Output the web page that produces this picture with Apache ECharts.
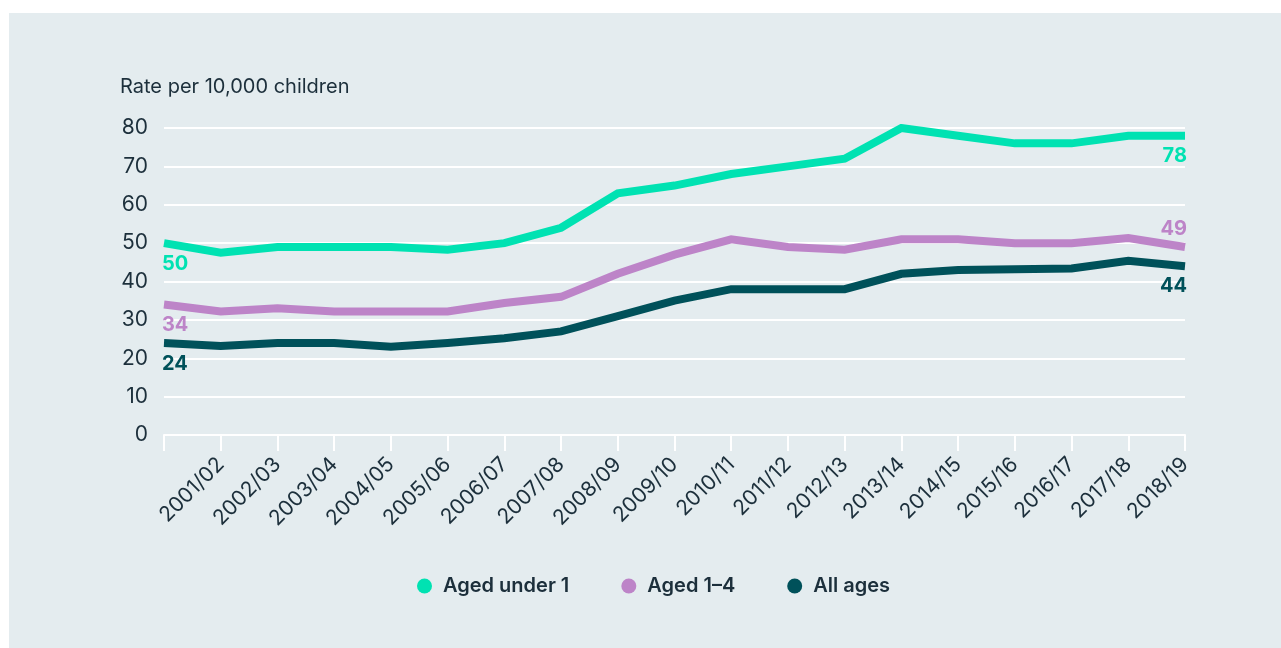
<!DOCTYPE html>
<html>
<head>
<meta charset="utf-8">
<script src="https://cdn.jsdelivr.net/npm/echarts@6/dist/echarts.min.js"></script>
<style>
  html, body { margin: 0; padding: 0; background: #ffffff; }
  #panel { position: absolute; left: 9px; top: 13px; width: 1272px; height: 635px; background: #e4ecef; }
  #chart { position: absolute; left: 0; top: 0; width: 1281px; height: 648px; }
</style>
</head>
<body>
<div id="panel"></div>
<div id="chart"></div>
<script>
// Financial years; the first year sits on the axis without a label
const years = ['2000/01', '2001/02', '2002/03', '2003/04', '2004/05', '2005/06', '2006/07',
  '2007/08', '2008/09', '2009/10', '2010/11', '2011/12', '2012/13', '2013/14',
  '2014/15', '2015/16', '2016/17', '2017/18', '2018/19'];

// Rate per 10,000 children
const agedUnder1 = [50, 47.5, 49, 49, 49, 48.3, 50, 54, 63, 65, 68, 70, 72, 80, 78, 76, 76, 78, 78];
const aged1to4   = [34, 32.2, 33, 32.2, 32.2, 32.2, 34.4, 36, 42, 47, 51, 49, 48.3, 51, 51, 50, 50, 51.3, 49];
const allAges    = [24, 23.2, 24, 24, 23, 24, 25.2, 27, 31, 35, 38, 38, 38, 42, 43, 43.2, 43.4, 45.4, 44];

const yTicks = [0, 10, 20, 30, 40, 50, 60, 70, 80];

const TEXT = '#1c2f3b';
const FONT = 'Inter, "Noto Sans", sans-serif';

// end-point value labels: [dx, dy] relative to the point, plus alignment
function labelled(values, color, startOff, endOff, endVAlign) {
  const last = values.length - 1;
  return values.map((v, i) => {
    if (i !== 0 && i !== last) return v;
    const first = i === 0;
    return {
      value: v,
      label: {
        show: true,
        position: first ? startOff : endOff,
        align: first ? 'left' : 'right',
        verticalAlign: first ? 'top' : endVAlign,
        color: color,
        fontFamily: FONT,
        fontWeight: 700,
        fontSize: 20,
        formatter: () => String(Math.round(v))
      }
    };
  });
}

function lineSeries(name, values, color, startOff, endOff, endVAlign) {
  return {
    name: name,
    type: 'line',
    data: labelled(values, color, startOff, endOff, endVAlign),
    symbol: 'circle',
    symbolSize: 0.1,
    showSymbol: true,
    itemStyle: { color: color },
    lineStyle: { color: color, width: 8, join: 'miter', cap: 'butt' },
    emphasis: { disabled: true },
    animation: false
  };
}

const chart = echarts.init(document.getElementById('chart'), null, { renderer: 'canvas' });

chart.setOption({
  backgroundColor: 'transparent',
  animation: false,
  textStyle: { fontFamily: FONT },
  grid: { left: 164, right: 96, top: 128, bottom: 213 },
  graphic: [{
    type: 'text',
    left: 120,
    top: 77,
    style: { text: 'Rate per 10,000 children', fill: TEXT, font: '20px ' + FONT }
  }],
  legend: {
    bottom: 47,
    left: 412,
    icon: 'circle',
    itemWidth: 15,
    itemHeight: 15,
    itemGap: 52,
    textStyle: { color: TEXT, fontSize: 20, fontWeight: 600, fontFamily: FONT, padding: [0, 0, 0, 6] },
    selectedMode: false,
    data: ['Aged under 1', 'Aged 1–4', 'All ages']
  },
  xAxis: {
    type: 'category',
    boundaryGap: false,
    data: years,
    axisLine: { lineStyle: { color: '#ffffff', width: 2 } },
    axisTick: { show: true, length: 16, lineStyle: { color: '#ffffff', width: 2 }, alignWithLabel: true, interval: 0 },
    axisLabel: {
      interval: (i) => i > 0,
      rotate: 45,
      margin: 26,
      color: TEXT,
      fontSize: 21,
      fontFamily: FONT
    },
    splitLine: { show: false }
  },
  yAxis: {
    type: 'value',
    min: yTicks[0],
    max: yTicks[yTicks.length - 1],
    interval: 10,
    axisLine: { show: false },
    axisTick: { show: false },
    axisLabel: { color: TEXT, fontSize: 21, fontFamily: FONT, margin: 16 },
    splitLine: { lineStyle: { color: '#ffffff', width: 2 } }
  },
  series: [
    lineSeries('Aged under 1', agedUnder1, '#00e2b2', [-2, 11], [2, 10], 'top'),
    lineSeries('Aged 1–4', aged1to4, '#bd84c8', [-2, 11], [2, -8], 'bottom'),
    lineSeries('All ages', allAges, '#00515a', [-2, 11], [2, 10], 'top')
  ]
});
</script>
</body>
</html>
